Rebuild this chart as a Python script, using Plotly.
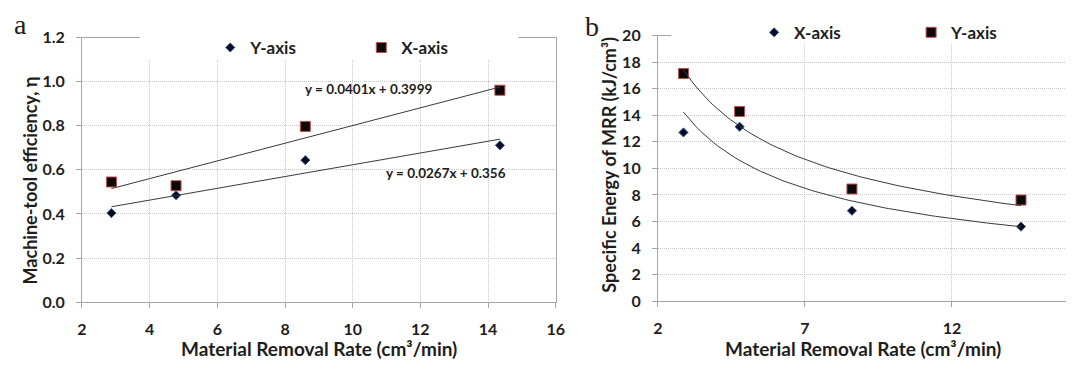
import numpy as np
import plotly.graph_objects as go

W, H = 1075, 370

# ---------------- data ----------------
mrr = [2.87, 4.78, 8.60, 14.35]                 # Material removal rate (cm3/min)
eff_y_axis = [0.404, 0.485, 0.644, 0.711]       # panel a, Y-axis (diamonds)
eff_x_axis = [0.545, 0.528, 0.797, 0.961]       # panel a, X-axis (squares)
se_x_axis = [12.71, 13.14, 6.81, 5.62]          # panel b, X-axis (diamonds)
se_y_axis = [17.14, 14.29, 8.45, 7.62]          # panel b, Y-axis (squares)
lin_x_axis = [0.0401, 0.3999]                   # slope, intercept (X-axis trend)
lin_y_axis = [0.0267, 0.356]                    # slope, intercept (Y-axis trend)
eq_x_axis = "y = 0.0401x + 0.3999"
eq_y_axis = "y = 0.0267x + 0.356"
xticks_a = [2, 4, 6, 8, 10, 12, 14, 16]
yticks_a = [0.0, 0.2, 0.4, 0.6, 0.8, 1.0, 1.2]
xticks_b = [2, 7, 12]
yticks_b = [0, 2, 4, 6, 8, 10, 12, 14, 16, 18, 20]

FONT = "Lato"
DIA_FILL, DIA_EDGE = "#0b0b22", "#2f5597"
SQ_FILL, SQ_EDGE = "#0a0a0a", "#c0504d"
TREND = "#3a3a3a"
GRID = "#c8c8c8"
AXLINE = "#a6a6a6"
TXT = "#1e1e1e"


def px(x):
    return x / W


def py(y):
    return 1 - y / H


fig = go.Figure()

# ---- panel a ----
fig.add_trace(go.Scatter(x=mrr, y=eff_y_axis, mode="markers", name="Y-axis",
                         marker=dict(symbol="diamond", size=7, color=DIA_FILL,
                                     line=dict(color=DIA_EDGE, width=1)),
                         xaxis="x", yaxis="y", legend="legend"))
fig.add_trace(go.Scatter(x=mrr, y=eff_x_axis, mode="markers", name="X-axis",
                         marker=dict(symbol="square", size=10, color=SQ_FILL,
                                     line=dict(color=SQ_EDGE, width=1)),
                         xaxis="x", yaxis="y", legend="legend"))
xl = np.array([min(mrr), max(mrr)])
fig.add_trace(go.Scatter(x=xl, y=lin_x_axis[0] * xl + lin_x_axis[1], mode="lines",
                         line=dict(color=TREND, width=1), showlegend=False,
                         xaxis="x", yaxis="y"))
fig.add_trace(go.Scatter(x=xl, y=lin_y_axis[0] * xl + lin_y_axis[1], mode="lines",
                         line=dict(color=TREND, width=1), showlegend=False,
                         xaxis="x", yaxis="y"))

# ---- panel b ----
fig.add_trace(go.Scatter(x=mrr, y=se_x_axis, mode="markers", name="X-axis",
                         marker=dict(symbol="diamond", size=7, color=DIA_FILL,
                                     line=dict(color=DIA_EDGE, width=1)),
                         xaxis="x2", yaxis="y2", legend="legend2"))
fig.add_trace(go.Scatter(x=mrr, y=se_y_axis, mode="markers", name="Y-axis",
                         marker=dict(symbol="square", size=10, color=SQ_FILL,
                                     line=dict(color=SQ_EDGE, width=1)),
                         xaxis="x2", yaxis="y2", legend="legend2"))
xs = np.linspace(min(mrr), max(mrr), 80)
for ser in (se_x_axis, se_y_axis):
    b, lna = np.polyfit(np.log(mrr), np.log(ser), 1)   # power trendline y = a x^b
    fig.add_trace(go.Scatter(x=xs, y=np.exp(lna) * xs ** b, mode="lines",
                             line=dict(color=TREND, width=1), showlegend=False,
                             xaxis="x2", yaxis="y2"))

bold = dict(family=FONT, size=16, color=TXT, weight="bold")
common_axis = dict(showline=True, linecolor=AXLINE, linewidth=1, ticks="outside",
                   ticklen=5, tickcolor=AXLINE, showgrid=True, gridcolor=GRID,
                   griddash="1px,1px", gridwidth=1, zeroline=False, tickfont=bold,
                   fixedrange=True)

leg_font = dict(family=FONT, size=17, color=TXT, weight="bold")
fig.update_layout(
    width=W, height=H, margin=dict(l=0, r=0, t=0, b=0),
    paper_bgcolor="white", plot_bgcolor="white",
    xaxis=dict(domain=[px(78), px(558)], range=[2, 16], tickvals=xticks_a,
               anchor="y", mirror=True, ticklabelstandoff=8, **common_axis),
    yaxis=dict(domain=[py(308), py(29)], range=[0, 1.2], tickvals=yticks_a,
               tickformat=".1f", anchor="x", mirror=True, ticklabelstandoff=8,
               **common_axis),
    xaxis2=dict(domain=[px(661.5), 1.0], range=[2, 15.88], tickvals=xticks_b,
                anchor="y2", mirror=True, ticklabelstandoff=8, **common_axis),
    yaxis2=dict(domain=[py(307), py(27)], range=[0, 20], tickvals=yticks_b,
                anchor="x2", ticklabelstandoff=8, **common_axis),
    legend=dict(orientation="h", x=px(208), y=py(40), xanchor="left", yanchor="middle",
                bgcolor="rgba(0,0,0,0)", font=leg_font,
                itemwidth=30, entrywidth=106, entrywidthmode="pixels"),
    legend2=dict(orientation="h", x=px(759), y=py(24), xanchor="left", yanchor="middle",
                 bgcolor="rgba(0,0,0,0)", font=leg_font,
                 itemwidth=30, entrywidth=112, entrywidthmode="pixels"),
    showlegend=True,
)

# white legend areas covering the frame / grid
fig.add_shape(type="rect", xref="paper", yref="paper", x0=px(137), x1=px(520),
              y0=py(52), y1=py(18), fillcolor="white", line=dict(width=0), layer="above")
fig.add_shape(type="rect", xref="paper", yref="paper", x0=px(675), x1=1.0,
              y0=py(36), y1=py(14), fillcolor="white", line=dict(width=0), layer="above")

ann_font = dict(family=FONT, size=13.5, color=TXT, weight="bold")
title_font = dict(family=FONT, size=19, color=TXT, weight="bold")
ytitle_font = dict(family=FONT, size=18, color=TXT, weight="bold")
fig.add_annotation(text=eq_x_axis, xref="paper", yref="paper", x=px(302), y=py(83),
                   xanchor="left", yanchor="middle", showarrow=False, font=ann_font)
fig.add_annotation(text=eq_y_axis, xref="paper", yref="paper", x=px(384), y=py(172),
                   xanchor="left", yanchor="middle", showarrow=False, font=ann_font)
fig.add_annotation(text="Material Removal Rate (cm³/min)", xref="paper", yref="paper",
                   x=px(318), y=py(357), xanchor="center", yanchor="middle",
                   showarrow=False, font=title_font)
fig.add_annotation(text="Material Removal Rate (cm³/min)", xref="paper", yref="paper",
                   x=px(869.5), y=py(357), xanchor="center", yanchor="middle",
                   showarrow=False, font=title_font)
fig.add_annotation(text="Machine-tool efficiency, η", xref="paper", yref="paper",
                   x=px(25), y=py(180), xanchor="center", yanchor="middle", textangle=-90,
                   showarrow=False, font=ytitle_font)
fig.add_annotation(text="Specific Energy of MRR (kJ/cm³)", xref="paper", yref="paper",
                   x=px(612), y=py(163), xanchor="center", yanchor="middle", textangle=-90,
                   showarrow=False, font=ytitle_font)
panel_font = dict(family="Liberation Serif", size=28, color=TXT)
fig.add_annotation(text="a", xref="paper", yref="paper", x=px(16), y=py(15),
                   xanchor="center", yanchor="middle", showarrow=False, font=panel_font)
fig.add_annotation(text="b", xref="paper", yref="paper", x=px(595), y=py(17),
                   xanchor="center", yanchor="middle", showarrow=False, font=panel_font)

fig.write_html("out.html")
